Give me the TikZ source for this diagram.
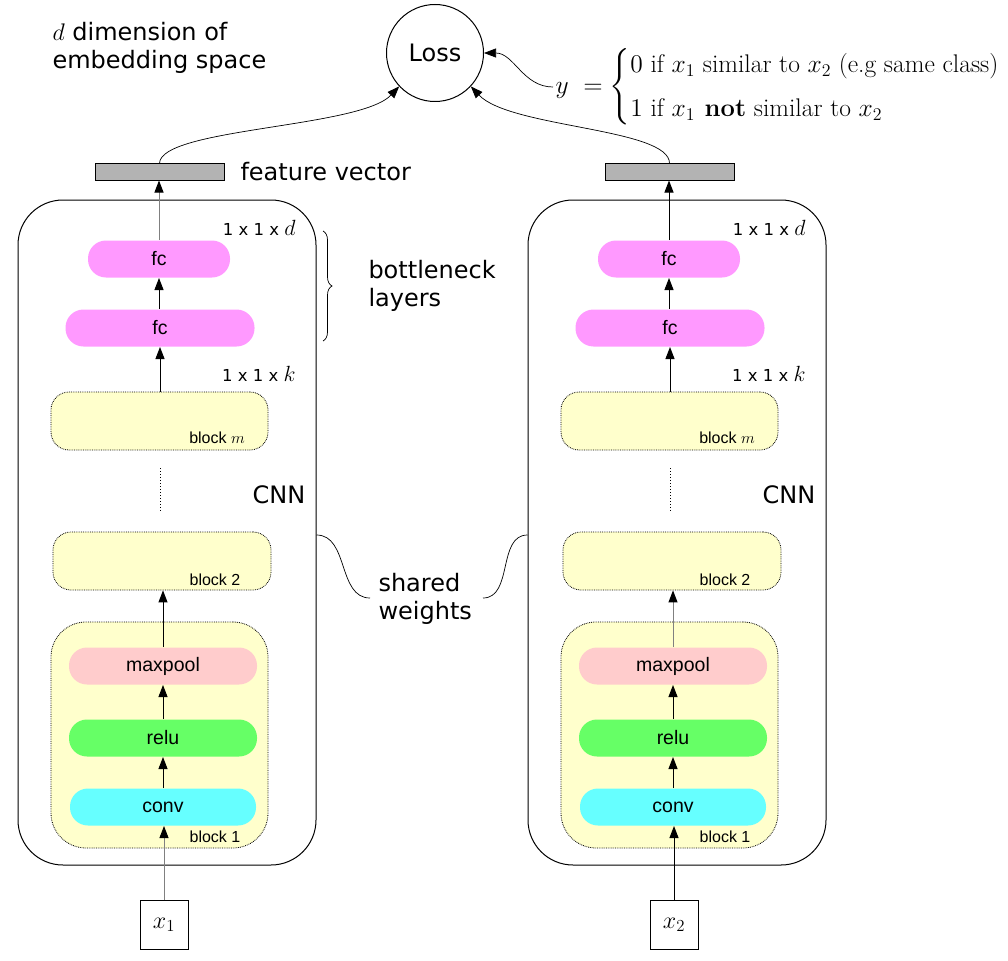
\documentclass[tikz,border=0pt]{standalone}
\usepackage{amsmath}
\usepackage{fontspec}
\DeclareFontShape{OML}{cmm}{m}{it}{<->cmmi12}{}
\DeclareFontShape{OT1}{cmr}{m}{n}{<->cmr12}{}
\DeclareFontShape{OMS}{cmsy}{m}{n}{<->cmsy10}{}
\DeclareFontShape{OMX}{cmex}{m}{n}{<->cmex10}{}
\newfontfamily\dvsans{DejaVu Sans}
\newfontfamily\libsans{Liberation Sans}
\usetikzlibrary{arrows.meta,decorations.pathreplacing}
\definecolor{fcpink}{HTML}{FF99FF}
\definecolor{mppink}{HTML}{FFCCCC}
\definecolor{relugreen}{HTML}{66FF66}
\definecolor{convcyan}{HTML}{66FFFF}
\definecolor{blockyellow}{HTML}{FFFFCC}
\definecolor{bargray}{HTML}{B3B3B3}
\newcommand\dvbig{\dvsans\fontsize{24}{28}\selectfont}
\newcommand\bigmath[1]{{\fontsize{22}{24}\selectfont$#1$}}
\begin{document}
\begin{tikzpicture}[x=1pt,y=-1pt,line width=1pt,
  arr/.style={-{Triangle[length=12pt,width=9pt,black]}},
  pill/.style={rectangle,rounded corners=18pt,inner sep=0pt,minimum height=37pt,
    font=\libsans\fontsize{19.5}{22}\selectfont},
  blk/.style={draw,densely dotted,line width=0.8pt,fill=blockyellow,rounded corners=18pt,inner sep=0pt},
  blklabel/.style={font=\libsans\fontsize{16}{18}\selectfont,inner sep=0pt},
  dimlabel/.style={font=\dvsans\fontsize{16.5}{19}\selectfont,inner sep=0pt,anchor=base east},
  bigtext/.style={font=\dvbig,inner sep=0pt},
  cnnbox/.style={draw,rounded corners=45pt,inner sep=0pt,minimum width=298pt,minimum height=665pt},
  fvbar/.style={draw,fill=bargray,inner sep=0pt,minimum width=129pt,minimum height=16pt},
  inbox/.style={draw,inner sep=0pt,minimum width=48pt,minimum height=49pt,font=\fontsize{24}{28}\selectfont}
]
\useasboundingbox (0,0) rectangle (1008,960);

\node[draw,circle,minimum size=97pt,inner sep=0pt,font=\dvbig] (loss) at (435,53) {Loss};

\node[bigtext,anchor=west,align=left] (dimtext) at (52,48) {$d$ dimension of\\embedding space};

\foreach \s/\o/\ca/\cb/\lbl in {L/0/gray/black/1, R/510/black/gray/2} {
  \node[cnnbox] (cnn\s) at (167+\o,532.5) {};
  \node[fvbar] (bar\s) at (159.5+\o,172) {};
  \node[pill,fill=fcpink,minimum width=142pt] (fcT\s) at (159+\o,259) {fc};
  \node[pill,fill=fcpink,minimum width=189pt] (fcB\s) at (160+\o,328) {fc};
  \node[blk,minimum width=217pt,minimum height=58pt] (bm\s) at (159.5+\o,421) {};
  \node[blklabel] (bmlab\s) at (217+\o,438) {block $m$};
  \node[blk,minimum width=218pt,minimum height=58pt] (b2\s) at (162+\o,561) {};
  \node[blklabel] (b2lab\s) at (215+\o,580) {block 2};
  \node[blk,rounded corners=35pt,minimum width=217pt,minimum height=226pt] (b1\s) at (159.5+\o,735) {};
  \node[blklabel] (b1lab\s) at (215+\o,837) {block 1};
  \node[pill,fill=mppink,minimum width=188pt] (mp\s) at (163+\o,666) {maxpool};
  \node[pill,fill=relugreen,minimum width=188pt] (relu\s) at (163+\o,738) {relu};
  \node[pill,fill=convcyan,minimum width=186pt] (conv\s) at (163+\o,807) {conv};
  \node[inbox] (x\s) at (164+\o,925) {$x_{\lbl}$};
  \node[dimlabel] (dimd\s) at (296+\o,235) {1 x 1 x \bigmath{d}};
  \node[dimlabel] (dimk\s) at (296+\o,381) {1 x 1 x \bigmath{k}};
  \node[bigtext] (cnnlab\s) at (279+\o,495) {CNN};
  \draw[dotted] (160+\o,468) -- (160+\o,512);
  \draw[arr,draw=\ca] (x\s.north) -- (x\s.north |- conv\s.south);
  \draw[arr] (conv\s) -- (relu\s);
  \draw[arr] (relu\s) -- (mp\s);
  \draw[arr,draw=\cb] (mp\s.north) -- (mp\s.north |- b2\s.south);
  \draw[arr] (fcB\s.south |- bm\s.north) -- (fcB\s.south);
  \draw[arr] (fcB\s.north -| fcT\s.south) -- (fcT\s.south);
  \draw[arr,draw=\ca] (fcT\s.north) -- (fcT\s.north |- bar\s.south);
}

\node[bigtext,anchor=west] (fvtext) at (240,172) {feature vector};
\node[bigtext,anchor=west,align=left] (bntext) at (368,286) {bottleneck\\layers};
\draw[line width=0.7pt,decorate,decoration={brace,amplitude=9pt}] (323,231) -- (323,341);
\node[bigtext,anchor=west,align=left] (sw) at (378,599) {shared\\weights};
\coordinate (swl) at (370,598);
\coordinate (swr) at (483,598);
\draw[line width=0.7pt] (cnnL.east |- 0,535) to[out=0,in=180] (swl);
\draw[line width=0.7pt] (cnnR.west |- 0,535) to[out=180,in=0] (swr);

\draw[arr,line width=0.7pt] (barL.north) .. controls (160,128) and (360,128) .. (loss.223);
\draw[arr,line width=0.7pt] (barR.north) .. controls (670,128) and (510,128) .. (loss.317);

\node[anchor=west,inner sep=2pt,font=\fontsize{25.5}{30}\selectfont] (ytext) at (553,87)
  {$y\ = \begin{cases} 0 \text{ if } x_1 \text{ similar to } x_2 \text{ (e.g same class)} \\[8pt] 1 \text{ if } x_1 \textbf{ not} \text{ similar to } x_2 \end{cases}$};
\draw[arr,line width=0.7pt] (ytext.west) to[out=180,in=0] (loss.east);
\end{tikzpicture}
\end{document}
